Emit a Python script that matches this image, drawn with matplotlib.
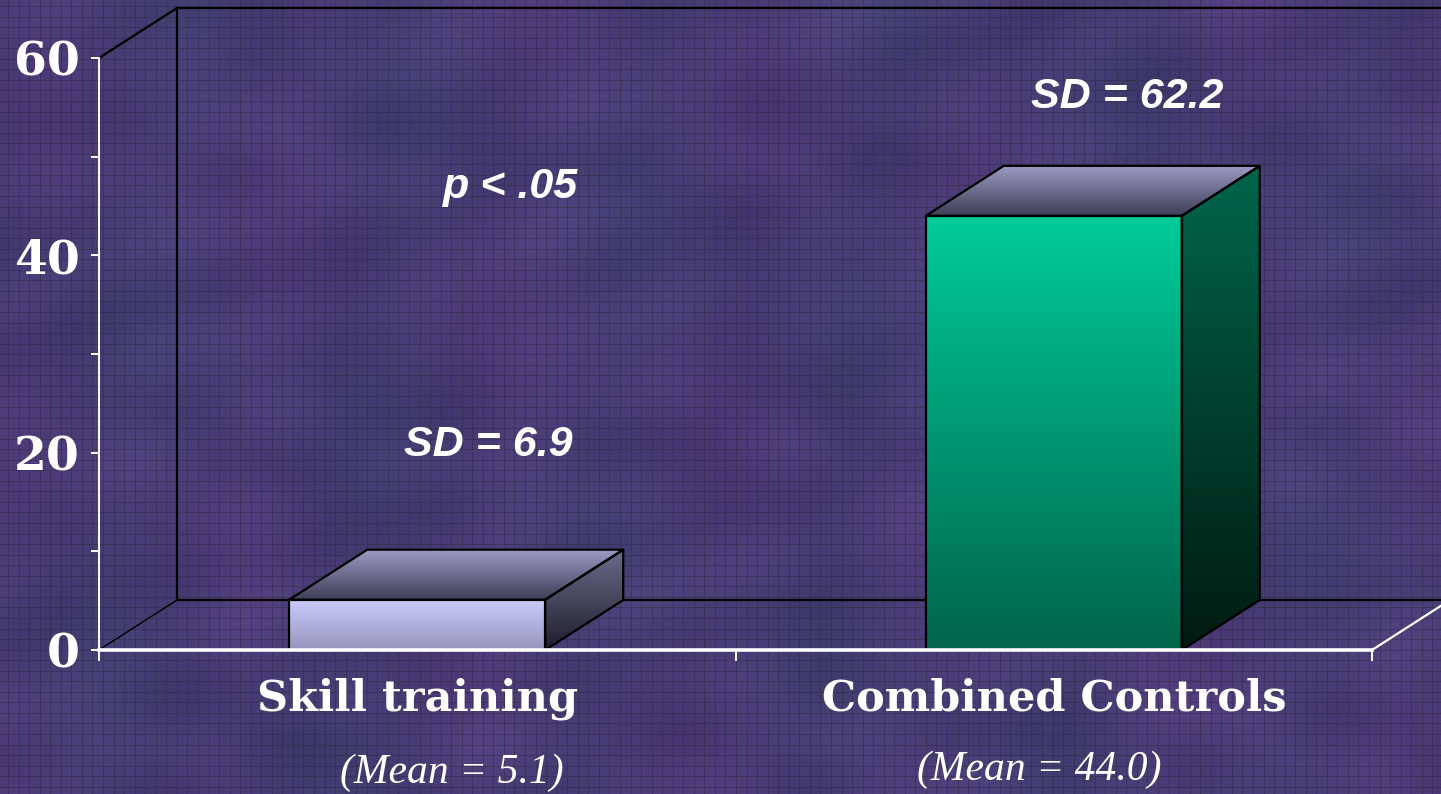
import numpy as np
import matplotlib
matplotlib.use("Agg")
import matplotlib.pyplot as plt
from matplotlib.patches import Polygon

# ---- data ----
categories = ["Skill training", "Combined Controls"]
means = [5.1, 44.0]
sds = [6.9, 62.2]
mean_labels = ["(Mean = 5.1)", "(Mean = 44.0)"]
p_text = "p < .05"
y_major = [0, 20, 40, 60]
y_minor = [10, 30, 50]

W, H = 1441, 794
fig = plt.figure(figsize=(W / 100, H / 100), dpi=100)

# ---- textured purple backdrop with a fine grid ----
yy, xx = np.mgrid[0:H, 0:W].astype(float)
mottle = (np.sin(xx / 61.0 + 1.3 * np.sin(yy / 47.0)) * np.cos(yy / 39.0 + 0.8 * np.sin(xx / 83.0))
          + 0.6 * np.sin((xx + yy) / 29.0) * np.sin((xx - 2 * yy) / 71.0))
tint = np.sin(xx / 113.0 + yy / 97.0) * np.cos(xx / 57.0 - yy / 131.0)
base = np.zeros((H, W, 3))
base[..., 0] = 74 + 5 * mottle + 6 * tint
base[..., 1] = 62 + 4 * mottle - 2 * tint
base[..., 2] = 120 + 6 * mottle + 3 * tint
cell = 10.55
gx = (np.mod(xx + 3, cell) < 1.0)
gy = (np.mod(yy + 5, cell) < 1.0)
grid = gx | gy
base[grid] = base[grid] * 0.58 + np.array([40, 36, 52]) * 0.42
checker = ((xx.astype(int) + yy.astype(int)) % 2 == 0) & ~grid
base[checker] = base[checker] * 0.96

bg = fig.add_axes([0, 0, 1, 1], zorder=-1)
bg.imshow(np.clip(base, 0, 255).astype(np.uint8), aspect="auto",
          interpolation="nearest", extent=(0, W, H, 0))
bg.set_xlim(0, W)
bg.set_ylim(H, 0)
bg.axis("off")

# ---- main axes ----
x0, x1 = 99, 1372
ytop, ybot = 58, 650
ax = fig.add_axes([x0 / W, (H - ybot) / H, (x1 - x0) / W, (ybot - ytop) / H], zorder=1)
ax.patch.set_visible(False)
ax.set_xlim(0, 2)
ax.set_ylim(0, 60)

px_x = (x1 - x0) / 2.0
px_y = (ybot - ytop) / 60.0
dx = 78 / px_x   # depth offset, horizontal
dy = 50 / px_y   # depth offset, vertical

# back wall and floor edges
ax.plot([dx, dx], [dy, 60 + dy], color="black", lw=1.6, clip_on=False, zorder=1)
ax.plot([dx, 2 + dx], [60 + dy, 60 + dy], color="black", lw=1.6, clip_on=False, zorder=1)
ax.plot([dx, 2 + dx], [dy, dy], color="black", lw=1.6, clip_on=False, zorder=1)
ax.plot([0, dx], [60, 60 + dy], color="black", lw=1.6, clip_on=False, zorder=1)
ax.plot([0, dx], [0, dy], color="black", lw=1.0, clip_on=False, zorder=1)
ax.plot([2, 2 + dx], [0, dy], color="white", lw=1.6, clip_on=False, zorder=1)


def gradient_face(verts, c_top, c_bot, z):
    verts = np.asarray(verts)
    xmin, xmax = verts[:, 0].min(), verts[:, 0].max()
    ymin, ymax = verts[:, 1].min(), verts[:, 1].max()
    n = 256
    t = np.linspace(0, 1, n)[:, None]
    c_top = np.array(matplotlib.colors.to_rgb(c_top))
    c_bot = np.array(matplotlib.colors.to_rgb(c_bot))
    img = (c_bot * (1 - t) + c_top * t)[:, None, :]
    im = ax.imshow(img, extent=(xmin, xmax, ymin, ymax), origin="lower",
                   aspect="auto", interpolation="bilinear", zorder=z)
    poly = Polygon(verts, closed=True, facecolor="none", edgecolor="black",
                   lw=1.6, joinstyle="round", zorder=z + 0.1)
    ax.add_patch(poly)
    im.set_clip_path(poly)


bar_w = 256 / px_x
front_cols = [("#cdcdfd", "#9494bd"), ("#00cc99", "#00644a")]
side_cols = [("#6c6c8c", "#1e1e2c"), ("#00664b", "#001a12")]
top_cols = ("#9a9ac4", "#3e3e56")

for i, v in enumerate(means):
    c = 0.5 + i
    xl, xr = c - bar_w / 2, c + bar_w / 2
    front = [(xl, 0), (xr, 0), (xr, v), (xl, v)]
    side = [(xr, 0), (xr + dx, dy), (xr + dx, v + dy), (xr, v)]
    top = [(xl, v), (xr, v), (xr + dx, v + dy), (xl + dx, v + dy)]
    gradient_face(side, side_cols[i][0], side_cols[i][1], 2)
    gradient_face(top, top_cols[0], top_cols[1], 2)
    gradient_face(front, front_cols[i][0], front_cols[i][1], 2)

ax.set_xlim(0, 2)
ax.set_ylim(0, 60)

# ---- axes styling ----
for s in ["top", "right"]:
    ax.spines[s].set_visible(False)
ax.spines["left"].set_color("white")
ax.spines["left"].set_linewidth(1.4)
ax.spines["bottom"].set_color("white")
ax.spines["bottom"].set_linewidth(2.6)
ax.spines["left"].set_zorder(5)
ax.spines["bottom"].set_zorder(5)

ax.set_yticks(y_major)
ax.set_yticks(y_minor, minor=True)
ax.set_yticklabels([str(t) for t in y_major])
ax.tick_params(axis="y", which="both", direction="out", length=6, width=1.4,
               color="white", pad=8)
for lab in ax.get_yticklabels():
    lab.set_fontfamily("DejaVu Serif")
    lab.set_fontweight("heavy")
    lab.set_fontsize(34)
    lab.set_color("white")

ax.set_xticks([0.5, 1.5])
ax.set_xticklabels(categories)
ax.set_xticks([0, 1, 2], minor=True)
ax.tick_params(axis="x", which="major", length=0, pad=20)
ax.tick_params(axis="x", which="minor", direction="out", length=8, width=1.4,
               color="white")
for lab in ax.get_xticklabels():
    lab.set_fontfamily("DejaVu Serif")
    lab.set_fontweight("bold")
    lab.set_fontsize(31)
    lab.set_color("white")

# ---- annotations ----
sd_pos = [(0.611, 20.8), (1.615, 56.0)]
for (tx, ty), s in zip(sd_pos, sds):
    ax.text(tx, ty, f"SD = {s}", ha="center", va="center", color="white",
            fontfamily="Liberation Sans", fontweight="bold", fontstyle="italic",
            fontsize=31, zorder=6)
ax.text(0.647, 46.9, p_text, ha="center", va="center", color="white",
        fontfamily="Liberation Sans", fontweight="bold", fontstyle="italic",
        fontsize=31, zorder=6)

mean_pos = [(0.555, -12.4), (1.478, -12.1)]
for (tx, ty), lab in zip(mean_pos, mean_labels):
    ax.text(tx, ty, lab, ha="center", va="center", color="white",
            fontfamily="Liberation Serif", fontstyle="italic",
            fontsize=30, clip_on=False, zorder=6)

fig.savefig("out.png", dpi=100)
